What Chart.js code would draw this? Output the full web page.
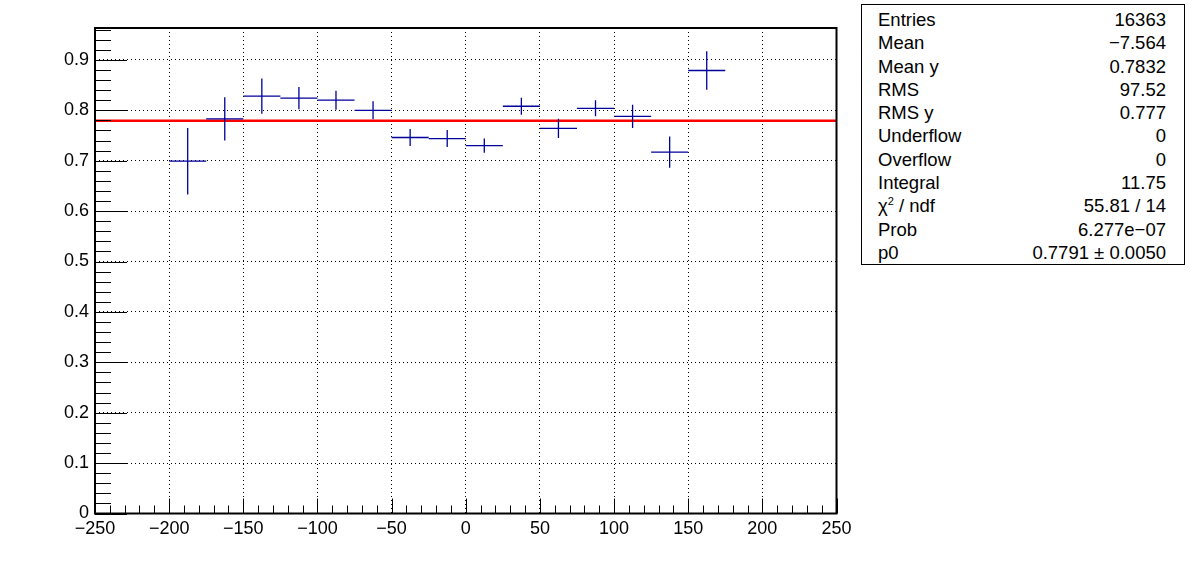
<!DOCTYPE html>
<html>
<head>
<meta charset="utf-8">
<script src="https://cdn.jsdelivr.net/npm/chart.js@4"></script>
<style>
  body { margin: 0; background: #fff; font-family: "Liberation Sans", Arial, sans-serif; }
  #wrap { position: relative; width: 1196px; height: 572px; }
  #stats {
    position: absolute; left: 861px; top: 4px; width: 324px; height: 261px;
    border: 1px solid #000; background: #fff; font-size: 18.5px; color: #000;
    box-sizing: border-box; padding: 3px 18px 0 16px;
  }
  #stats .row { display: flex; justify-content: space-between; height: 23.3px; line-height: 23.3px; }
  #stats sup { font-size: 11px; line-height: 0; vertical-align: 0; position: relative; top: -7px; }
</style>
</head>
<body>
<div id="wrap">
  <canvas id="chart" width="1196" height="572"></canvas>
  <div id="stats"></div>
</div>
<script>
// Data (bin centres, profile means, errors on the mean)
const binCenters = [-187.5, -162.5, -137.5, -112.5, -87.5, -62.5, -37.5, -12.5, 12.5, 37.5, 62.5, 87.5, 112.5, 137.5, 162.5];
const meanValues = [0.699, 0.783, 0.828, 0.824, 0.820, 0.800, 0.746, 0.744, 0.730, 0.808, 0.764, 0.804, 0.788, 0.717, 0.879];
const meanErrors = [0.066, 0.043, 0.035, 0.022, 0.019, 0.018, 0.017, 0.017, 0.014, 0.017, 0.019, 0.016, 0.023, 0.031, 0.038];
const binHalfWidth = 12.5;
const fitValue = 0.7791;

const xTickLabels = [-250, -200, -150, -100, -50, 0, 50, 100, 150, 200, 250];
const yTickLabels = [0, 0.1, 0.2, 0.3, 0.4, 0.5, 0.6, 0.7, 0.8, 0.9];

const statNames = ["Entries", "Mean", "Mean y", "RMS", "RMS y", "Underflow", "Overflow", "Integral", "χ<sup>2</sup> / ndf", "Prob", "p0"];
const statValues = ["16363", "\u22127.564", "0.7832", "97.52", "0.777", "0", "0", "11.75", "55.81 / 14", "6.277e\u221207", "0.7791 \u00b1 0.0050"];

// Stats box
const statsEl = document.getElementById("stats");
statNames.forEach((n, i) => {
  const row = document.createElement("div");
  row.className = "row";
  row.innerHTML = `<span>${n}</span><span>${statValues[i]}</span>`;
  statsEl.appendChild(row);
});

const points = binCenters.map((x, i) => ({ x: x, y: meanValues[i] }));

// error bars + ROOT-like ticks and frame
const rootStyle = {
  id: "rootStyle",
  afterDatasetsDraw(chart) {
    const ctx = chart.ctx;
    const xs = chart.scales.x, ys = chart.scales.y;
    const a = chart.chartArea;
    ctx.save();
    // error crosses
    ctx.strokeStyle = "#00009a";
    ctx.lineWidth = 1.3;
    binCenters.forEach((x, i) => {
      const px = xs.getPixelForValue(x);
      const py = ys.getPixelForValue(meanValues[i]);
      ctx.beginPath();
      ctx.moveTo(xs.getPixelForValue(x - binHalfWidth), py);
      ctx.lineTo(xs.getPixelForValue(x + binHalfWidth), py);
      ctx.moveTo(px, ys.getPixelForValue(meanValues[i] + meanErrors[i]));
      ctx.lineTo(px, ys.getPixelForValue(meanValues[i] - meanErrors[i]));
      ctx.stroke();
    });
    // tick marks
    ctx.strokeStyle = "#000";
    ctx.lineWidth = 1;
    ctx.beginPath();
    for (let v = -250; v <= 250; v += 10) {
      const px = Math.round(xs.getPixelForValue(v)) + 0.5;
      const len = v % 50 === 0 ? 15 : 8;
      ctx.moveTo(px, a.bottom);
      ctx.lineTo(px, a.bottom - len);
    }
    for (let k = 0; k <= 48; k++) {
      const v = k * 0.02;
      const py = Math.round(ys.getPixelForValue(v)) + 0.5;
      const len = k % 5 === 0 ? 32 : 16;
      ctx.moveTo(a.left, py);
      ctx.lineTo(a.left + len, py);
    }
    ctx.stroke();
    // frame
    ctx.lineWidth = 2;
    ctx.strokeRect(a.left, a.top, a.right - a.left, a.bottom - a.top);
    ctx.restore();
  }
};

new Chart(document.getElementById("chart").getContext("2d"), {
  type: "scatter",
  data: {
    datasets: [
      {
        label: "fit",
        type: "line",
        data: [{ x: -250, y: fitValue }, { x: 250, y: fitValue }],
        borderColor: "#ff0000",
        borderWidth: 2.5,
        pointRadius: 0,
        order: 2
      },
      {
        label: "profile",
        data: points,
        pointRadius: 0,
        showLine: false,
        order: 1
      }
    ]
  },
  plugins: [rootStyle],
  options: {
    responsive: false,
    animation: false,
    layout: { padding: { left: 0, top: 28, right: 359.5, bottom: 0 } },
    plugins: { legend: { display: false }, tooltip: { enabled: false } },
    scales: {
      x: {
        type: "linear",
        min: -250,
        max: 250,
        afterBuildTicks: s => { s.ticks = xTickLabels.map(v => ({ value: v })); },
        afterFit: s => { s.height = 58.5; },
        ticks: {
          color: "#000",
          padding: 5,
          maxRotation: 0,
          font: { family: "Liberation Sans", size: 18 },
          callback: v => String(v).replace("-", "\u2212")
        },
        grid: {
          drawTicks: false,
          color: c => (c.tick && (c.tick.value === -250 || c.tick.value === 250)) ? "rgba(0,0,0,0)" : "#000",
          lineWidth: 1
        },
        border: { display: false, dash: [1, 3] }
      },
      y: {
        type: "linear",
        min: 0,
        max: 0.9633,
        afterBuildTicks: s => { s.ticks = yTickLabels.map(v => ({ value: v })); },
        afterFit: s => { s.width = 95; },
        ticks: {
          color: "#000",
          padding: 6,
          font: { family: "Liberation Sans", size: 18 },
          callback: v => String(Math.round(v * 10) / 10)
        },
        grid: {
          drawTicks: false,
          color: c => (c.tick && c.tick.value === 0) ? "rgba(0,0,0,0)" : "#000",
          lineWidth: 1
        },
        border: { display: false, dash: [1, 3] }
      }
    }
  }
});
</script>
</body>
</html>
